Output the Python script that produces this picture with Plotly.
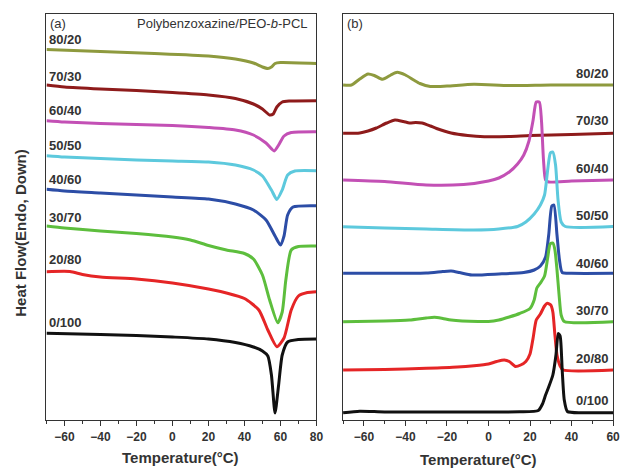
import plotly.graph_objects as go

# ---------------- Panel (a): heating scans (offset heat flow, arbitrary units, plotted downward) ----
a_8020_T = [-70, -40, -10, 20, 35, 45, 50, 53, 55, 57, 60, 80]
a_8020_y = [49.5, 51.5, 53.5, 56, 59, 63, 67, 68.5, 67, 63.5, 62.5, 63.5]
a_7030_T = [-70, -60, -40, -20, 0, 20, 35, 45, 50, 54, 56, 58, 61, 65, 80]
a_7030_y = [85, 87, 89, 90.5, 92.5, 95, 98.5, 104, 109, 115, 114, 107, 102, 101, 100.7]
a_6040_T = [-70, -60, -40, -20, 0, 20, 35, 45, 52, 56.5, 59, 62, 66, 80]
a_6040_y = [120.7, 122, 123.5, 124.5, 125.5, 127.5, 130, 135, 143, 151, 145, 136, 132.5, 131.7]
a_5050_T = [-70, -60, -40, -20, 0, 20, 35, 45, 50, 55, 58, 61, 64, 68, 80]
a_5050_y = [155.7, 157, 158.5, 160, 161, 162, 165, 170, 176, 190, 199.5, 190, 175, 171, 170.7]
a_4060_T = [-70, -60, -40, -20, 0, 20, 35, 45, 52, 57, 60, 62, 64, 67, 80]
a_4060_y = [189.3, 191, 193, 195, 197, 199, 204, 210, 220, 236, 245, 236, 215, 207, 205.7]
a_3070_T = [-70, -60, -40, -20, 0, 10, 20, 30, 40, 45, 50, 54, 58.5, 61, 63, 66, 70, 80]
a_3070_y = [226, 228, 231, 233.5, 237, 240, 245.5, 250, 253.5, 259, 275, 300, 322.7, 312, 280, 250, 246.5, 246]
a_2080_T = [-70, -57, -50, -40, -20, 0, 20, 30, 40, 48, 53, 58, 62, 66, 70, 75, 80]
a_2080_y = [271.7, 271.5, 274.5, 277, 279, 283, 289, 293, 298.5, 310, 330, 346.7, 338, 310, 296, 292.5, 291.7]
a_0100_T = [-70, -40, -20, 0, 20, 35, 45, 50, 53, 55, 57, 59, 61, 64, 70, 80]
a_0100_y = [333.3, 334.5, 335.5, 337, 339, 342.5, 347, 351, 356, 375, 413, 385, 355, 342, 339.5, 339]

# ---------------- Panel (b): cooling scans ----------------
b_8020_T = [-70, -66, -62, -58, -55, -51, -47, -44, -40, -36, -33, -28, -20, -7, 10, 30, 60]
b_8020_y = [85, 85, 79, 74, 75.5, 79.3, 75, 72.3, 75, 80, 83.5, 86.5, 86, 84.3, 85.5, 85, 85]
b_7030_T = [-70, -62, -58, -54, -49, -45, -41, -38, -35, -32, -28, -25, -18, -10, -2, 10, 20, 40, 60]
b_7030_y = [133.3, 133, 131, 128, 123, 120, 121.5, 123, 122.5, 123, 126, 128.5, 133, 135.5, 136.7, 136.5, 135.5, 134.5, 133.3]
b_6040_T = [-70, -50, -30, -12, 0, 5, 10, 14, 17, 19.5, 21.5, 23, 24.5, 25.5, 26.5, 27.5, 29, 40, 60]
b_6040_y = [180, 181.5, 185, 184.5, 181, 178, 172, 164, 155, 141, 120, 102, 102, 120, 160, 180, 182, 181, 180]
b_5050_T = [-70, -50, -30, -7, 5, 14, 18, 22, 25, 27, 28.5, 29.8, 31, 32.3, 33.5, 35, 37, 60]
b_5050_y = [226.7, 228, 229, 230, 229, 226.5, 222, 214, 205, 195, 170, 153, 152, 165, 200, 222, 226.5, 226.5]
b_4060_T = [-70, -30, -22, -18, -14, -8, 5, 17, 22, 25, 27.5, 29, 30.5, 31.5, 33, 34.2, 35.5, 40, 60]
b_4060_y = [273.3, 273, 271.5, 271, 272.5, 275, 274, 272.5, 270, 266, 257, 235, 206, 205, 235, 260, 272.5, 273.3, 273.3]
b_3070_T = [-70, -50, -38, -30, -26, -22, -18, -5, 0, 5, 10, 15, 20, 22, 23.3, 25, 27, 28.5, 29.7, 31, 32, 33, 34, 35, 36.5, 60]
b_3070_y = [321.7, 321, 320, 318, 317.3, 318.5, 320, 321.5, 321.5, 320, 317, 313.5, 308.5, 300, 288, 283, 276, 258, 244, 243, 250, 270, 295, 315, 321.5, 321.7]
b_2080_T = [-70, -50, -30, -15, -7, 0, 4, 7.6, 10, 13, 15.5, 18, 20, 21.5, 23, 25, 27, 28.3, 30, 31, 32, 33, 34.5, 36, 60]
b_2080_y = [370, 369.5, 368.3, 367, 365.7, 364, 361.5, 360, 361.5, 366.5, 365, 361.5, 354, 338, 320, 314, 306, 303.3, 305, 312, 335, 355, 366, 370, 370]
b_0100_T = [-70, -62, -50, -20, 0, 15, 24, 26, 27.5, 29, 31, 32.5, 33.6, 34.5, 35.5, 36.5, 38, 45, 60]
b_0100_y = [412.7, 411.2, 412, 412, 412, 411.8, 410.5, 404, 395, 387, 375, 355, 333.5, 336, 370, 400, 411.5, 412.7, 412.7]

labels = ["80/20", "70/30", "60/40", "50/50", "40/60", "30/70", "20/80", "0/100"]
colors = ["#8E9A3E", "#8E1B1B", "#C350B5", "#5DC9DD", "#2C4DA6", "#5DBE3D", "#E52526", "#111111"]
a_series = [(a_8020_T, a_8020_y), (a_7030_T, a_7030_y), (a_6040_T, a_6040_y), (a_5050_T, a_5050_y),
            (a_4060_T, a_4060_y), (a_3070_T, a_3070_y), (a_2080_T, a_2080_y), (a_0100_T, a_0100_y)]
b_series = [(b_8020_T, b_8020_y), (b_7030_T, b_7030_y), (b_6040_T, b_6040_y), (b_5050_T, b_5050_y),
            (b_4060_T, b_4060_y), (b_3070_T, b_3070_y), (b_2080_T, b_2080_y), (b_0100_T, b_0100_y)]
# label vertical positions (same units as the curves)
a_label_y = [39, 76, 110, 145.7, 179, 217.3, 259.3, 322.7]
b_label_y = [73.3, 120, 168.3, 215, 263.3, 310.7, 358.3, 400.7]

fig = go.Figure()
for (T, y), c, n in zip(a_series, colors, labels):
    fig.add_trace(go.Scatter(x=T, y=y, mode="lines", name=n, showlegend=False,
                             line=dict(color=c, width=3, shape="spline", smoothing=0.6),
                             xaxis="x", yaxis="y"))
for (T, y), c, n in zip(b_series, colors, labels):
    fig.add_trace(go.Scatter(x=T, y=y, mode="lines", name=n, showlegend=False,
                             line=dict(color=c, width=3, shape="spline", smoothing=0.6),
                             xaxis="x2", yaxis="y2"))

lab_font = dict(family="Arial, Liberation Sans", size=13, color="#333333", weight="bold")
ann = []
for n, yv in zip(labels, a_label_y):
    ann.append(dict(x=-69.5, y=yv, xref="x", yref="y", text=n, showarrow=False,
                    xanchor="left", yanchor="middle", font=lab_font))
for n, yv in zip(labels, b_label_y):
    ann.append(dict(x=58.8, y=yv, xref="x2", yref="y2", text=n, showarrow=False,
                    xanchor="right", yanchor="middle", font=lab_font))

plain = dict(family="Arial, Liberation Sans", size=13, color="#333333")
ann.append(dict(x=-69.3, y=23, xref="x", yref="y", text="(a)", showarrow=False,
                xanchor="left", yanchor="middle", font=plain))
ann.append(dict(x=-69.3, y=23, xref="x2", yref="y2", text="(b)", showarrow=False,
                xanchor="left", yanchor="middle", font=plain))
ann.append(dict(x=76.5, y=23, xref="x", yref="y", text="Polybenzoxazine/PEO-<i>b</i>-PCL",
                showarrow=False, xanchor="right", yanchor="middle", font=plain))

title_font = dict(family="Arial, Liberation Sans", size=15, color="#333333", weight="bold")
ann.append(dict(x=183 / 626, y=1 - 457 / 468, xref="paper", yref="paper", text="Temperature(°C)",
                showarrow=False, xanchor="center", yanchor="middle", font=title_font))
ann.append(dict(x=484 / 626, y=1 - 459 / 468, xref="paper", yref="paper", text="Temperature(°C)",
                showarrow=False, xanchor="center", yanchor="middle", font=title_font))
ann.append(dict(x=20 / 626, y=1 - 233 / 468, xref="paper", yref="paper", text="Heat Flow(Endo, Down)",
                showarrow=False, xanchor="center", yanchor="middle", textangle=-90, font=title_font))

tick_font = dict(family="Arial, Liberation Sans", size=12, color="#333333", weight="bold")
xcommon = dict(showgrid=False, zeroline=False, showline=True, mirror=True, linecolor="#333333",
               linewidth=1.3, ticks="outside", ticklen=5, tickwidth=1.2, tickcolor="#333333",
               tickfont=tick_font,
               minor=dict(ticks="outside", ticklen=3, tickwidth=1.2, tickcolor="#333333", dtick=10))
ycommon = dict(showgrid=False, zeroline=False, showline=True, mirror=True, linecolor="#333333",
               linewidth=1.3, ticks="", showticklabels=False, range=[420, 14],
               domain=[1 - 420 / 468, 1 - 14 / 468])

fig.update_layout(
    width=626, height=468, margin=dict(l=0, r=0, t=0, b=0),
    paper_bgcolor="white", plot_bgcolor="white",
    xaxis=dict(domain=[47 / 626, 320 / 626], range=[-70, 80], tickmode="array",
               tickvals=[-60, -40, -20, 0, 20, 40, 60, 80], anchor="y", **xcommon),
    yaxis=dict(anchor="x", **ycommon),
    xaxis2=dict(domain=[347 / 626, 620 / 626], range=[-70, 60], tickmode="array",
                tickvals=[-60, -40, -20, 0, 20, 40, 60], anchor="y2", **xcommon),
    yaxis2=dict(anchor="x2", **ycommon),
    annotations=ann,
)
fig.write_html("out.html")
